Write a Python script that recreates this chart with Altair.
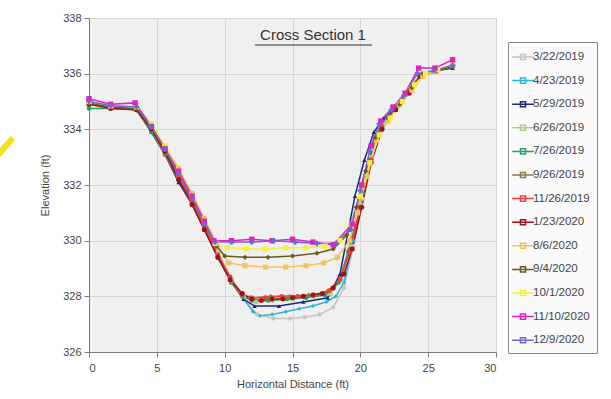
import altair as alt
import pandas as pd

dates = ["3/22/2019", "4/23/2019", "5/29/2019", "6/26/2019", "7/26/2019", "9/26/2019",
         "11/26/2019", "1/23/2020", "8/6/2020", "9/4/2020", "10/1/2020", "11/10/2020", "12/9/2020"]
colors = ["#c4c4c4", "#2bb5d8", "#1c2580", "#a8cf88", "#24a06a", "#8c7a48",
          "#f03c3c", "#a01018", "#f2c35a", "#6a5a20", "#f6ee3a", "#e020c8", "#6a6ad0"]
shapes = ["circle", "diamond", "triangle-up", "square", "circle", "diamond",
          "circle", "circle", "square", "diamond", "square", "square", "cross"]
sizes = [18, 30, 30, 30, 30, 18, 18, 45, 20, 22, 40, 45, 20]

xs = {
    "3/22/2019": [0, 1.6, 3.5, 4.6, 5.6, 6.6, 7.6, 8.5, 9.5, 10.5, 11.4, 12.4, 13.6, 14.8, 15.9, 17.0, 18.0, 18.8, 19.5, 20.2, 20.9, 21.7, 22.7, 23.7, 24.5, 25.6, 26.8],
    "4/23/2019": [0, 1.6, 3.5, 4.6, 5.6, 6.6, 7.6, 8.5, 9.5, 10.5, 11.4, 12.1, 12.6, 13.5, 14.5, 15.5, 16.5, 17.5, 18.2, 18.8, 19.5, 20.2, 20.9, 21.7, 22.7, 23.7, 24.5, 25.6, 26.8],
    "5/29/2019": [0, 1.6, 3.5, 4.6, 5.6, 6.6, 7.6, 8.5, 9.5, 10.5, 11.4, 12.2, 14.0, 15.8, 17.6, 18.5, 19.6, 20.3, 21.0, 21.7, 22.7, 23.7, 24.5, 25.6, 26.8],
    "6/26/2019": [0, 1.6, 3.5, 4.6, 5.6, 6.6, 7.6, 8.5, 9.5, 10.5, 11.4, 12.3, 13.5, 15.0, 16.5, 17.8, 18.6, 19.3, 20.0, 20.8, 21.6, 22.7, 23.7, 24.5, 25.6, 26.8],
    "7/26/2019": [0, 1.6, 3.5, 4.6, 5.6, 6.6, 7.6, 8.5, 9.5, 10.5, 11.3, 12.0, 13.2, 14.6, 16.0, 17.4, 18.4, 19.1, 19.9, 20.7, 21.5, 22.6, 23.6, 24.4, 25.6, 26.8],
    "9/26/2019": [0, 1.6, 3.5, 4.6, 5.6, 6.6, 7.6, 8.5, 9.5, 10.5, 11.3, 12.1, 13.4, 14.8, 16.2, 17.5, 18.5, 19.2, 20.0, 20.8, 21.6, 22.6, 23.6, 24.4, 25.6, 26.8],
    "11/26/2019": [0, 1.6, 3.5, 4.6, 5.6, 6.6, 7.6, 8.5, 9.5, 10.4, 11.2, 11.9, 13.0, 14.2, 15.4, 16.6, 17.7, 18.5, 19.2, 20.0, 20.8, 21.6, 22.6, 23.6, 24.4, 25.6, 26.8],
    "1/23/2020": [0, 1.6, 3.5, 4.6, 5.6, 6.6, 7.6, 8.5, 9.5, 10.4, 11.3, 12.0, 12.7, 13.5, 14.3, 15.0, 15.8, 16.5, 17.2, 18.0, 18.8, 19.4, 20.1, 20.8, 21.6, 22.6, 23.6, 24.4, 25.6, 26.8],
    "8/6/2020": [0, 1.6, 3.5, 4.6, 5.6, 6.6, 7.6, 8.5, 9.4, 10.3, 11.5, 13.0, 14.5, 16.0, 17.3, 18.3, 19.2, 19.8, 20.5, 21.2, 22.0, 22.9, 23.8, 24.6, 25.6, 26.8],
    "9/4/2020": [0, 1.6, 3.5, 4.6, 5.6, 6.6, 7.6, 8.5, 9.4, 10.0, 11.5, 13.2, 15.0, 16.8, 18.0, 19.0, 19.7, 20.4, 21.1, 22.0, 22.9, 23.8, 24.6, 25.6, 26.8],
    "10/1/2020": [0, 1.6, 3.5, 4.6, 5.6, 6.6, 7.6, 8.5, 9.3, 10.2, 11.6, 13.0, 14.5, 16.0, 17.4, 18.5, 19.3, 20.0, 20.7, 21.4, 22.2, 23.1, 24.0, 24.8, 25.7, 26.8],
    "11/10/2020": [0, 1.6, 3.4, 4.6, 5.6, 6.6, 7.6, 8.5, 9.2, 10.5, 12.0, 13.5, 15.0, 16.5, 18.0, 19.4, 20.1, 20.8, 21.5, 22.4, 23.3, 24.3, 25.5, 26.8],
    "12/9/2020": [0, 1.6, 3.5, 4.6, 5.6, 6.6, 7.6, 8.5, 9.3, 10.5, 12.0, 13.6, 15.2, 16.8, 18.2, 19.3, 20.0, 20.7, 21.4, 22.3, 23.2, 24.2, 25.4, 26.8],
}
ys = {
    "3/22/2019": [335.0, 334.8, 334.7, 334.0, 333.2, 332.3, 331.5, 330.6, 329.6, 328.6, 327.9, 327.35, 327.2, 327.2, 327.25, 327.35, 327.6, 328.3, 329.8, 331.5, 333.3, 334.2, 334.9, 335.5, 336.0, 336.1, 336.3],
    "4/23/2019": [334.9, 334.8, 334.75, 334.0, 333.2, 332.2, 331.4, 330.5, 329.5, 328.6, 327.9, 327.45, 327.3, 327.35, 327.45, 327.55, 327.65, 327.8, 328.0, 328.5, 330.0, 331.7, 333.4, 334.3, 334.9, 335.5, 336.0, 336.1, 336.3],
    "5/29/2019": [335.0, 334.8, 334.7, 333.9, 333.1, 332.1, 331.3, 330.4, 329.4, 328.5, 327.9, 327.65, 327.65, 327.8, 327.95, 328.8, 331.6, 332.9, 333.9, 334.4, 334.8, 335.4, 335.9, 336.1, 336.2],
    "6/26/2019": [334.9, 334.8, 334.7, 334.0, 333.2, 332.3, 331.4, 330.5, 329.5, 328.6, 328.0, 327.8, 327.85, 327.9, 328.0, 328.1, 328.6, 329.8, 331.3, 333.0, 334.1, 334.8, 335.4, 335.9, 336.1, 336.3],
    "7/26/2019": [334.75, 334.75, 334.7, 333.9, 333.1, 332.2, 331.3, 330.4, 329.4, 328.5, 328.0, 327.85, 327.85, 327.9, 327.95, 328.05, 328.5, 329.6, 331.2, 332.9, 334.0, 334.7, 335.4, 335.9, 336.1, 336.25],
    "9/26/2019": [334.9, 334.8, 334.7, 334.0, 333.1, 332.2, 331.3, 330.4, 329.4, 328.5, 328.0, 327.95, 328.0, 328.0, 328.05, 328.15, 328.6, 329.7, 331.2, 332.9, 334.0, 334.7, 335.4, 335.9, 336.1, 336.3],
    "11/26/2019": [334.95, 334.8, 334.7, 334.0, 333.2, 332.3, 331.4, 330.5, 329.5, 328.7, 328.1, 327.95, 327.95, 328.0, 328.0, 328.05, 328.2, 328.6, 329.6, 331.2, 332.9, 334.1, 334.8, 335.4, 335.9, 336.1, 336.3],
    "1/23/2020": [334.9, 334.75, 334.7, 334.0, 333.2, 332.2, 331.3, 330.4, 329.4, 328.6, 328.1, 327.9, 327.85, 327.9, 327.9, 327.95, 328.0, 328.05, 328.1, 328.3, 328.8, 329.7, 331.2, 332.8, 334.0, 334.7, 335.3, 335.9, 336.1, 336.3],
    "8/6/2020": [335.0, 334.85, 334.8, 334.2, 333.4, 332.6, 331.7, 330.8, 329.9, 329.2, 329.1, 329.05, 329.05, 329.1, 329.2, 329.4, 330.0, 331.0, 332.3, 333.6, 334.3, 334.9, 335.4, 335.9, 336.1, 336.3],
    "9/4/2020": [334.95, 334.8, 334.75, 334.1, 333.3, 332.4, 331.5, 330.6, 329.8, 329.45, 329.4, 329.4, 329.45, 329.55, 329.7, 330.2, 331.2, 332.5, 333.7, 334.4, 334.9, 335.5, 336.0, 336.1, 336.25],
    "10/1/2020": [335.0, 334.85, 334.8, 334.2, 333.4, 332.5, 331.6, 330.7, 329.9, 329.75, 329.7, 329.7, 329.75, 329.75, 329.8, 330.0, 330.6, 331.6, 332.8, 333.8, 334.4, 335.0, 335.6, 336.0, 336.15, 336.35],
    "11/10/2020": [335.1, 334.9, 334.95, 334.1, 333.3, 332.5, 331.6, 330.7, 330.0, 330.0, 330.05, 330.0, 330.05, 329.95, 329.85, 330.6, 332.0, 333.4, 334.3, 334.8, 335.3, 336.2, 336.2, 336.5],
    "12/9/2020": [335.0, 334.85, 334.8, 334.1, 333.3, 332.4, 331.5, 330.6, 329.95, 329.95, 329.95, 330.0, 329.95, 329.9, 329.9, 330.4, 331.8, 333.2, 334.2, 334.7, 335.2, 336.0, 336.1, 336.3],
}

rows = []
for d in dates:
    for i, (xv, yv) in enumerate(zip(xs[d], ys[d])):
        rows.append({"date": d, "dist": xv, "elev": yv, "idx": i})
df = pd.DataFrame(rows)

font = "Liberation Sans"
W, H = 407, 334

xenc = alt.X("dist:Q", scale=alt.Scale(domain=[0, 30], nice=False),
             axis=alt.Axis(values=[0, 5, 10, 15, 20, 25, 30], title="Horizontal Distance (ft)",
                           titlePadding=5, labelPadding=5))
yenc = alt.Y("elev:Q", scale=alt.Scale(domain=[326, 338], nice=False, zero=False),
             axis=alt.Axis(values=[326, 328, 330, 332, 334, 336, 338], title="Elevation (ft)",
                           titlePadding=12))
color = alt.Color("date:N", scale=alt.Scale(domain=dates, range=colors),
                  legend=alt.Legend(title=None, orient="none", legendX=419, legendY=24,
                                    symbolType="M-1.5,0H1.5M-0.35,-0.35H0.35V0.35H-0.35Z",
                                    symbolSize=210, symbolStrokeWidth=1.5,
                                    labelFontSize=11.5, labelColor="#444", labelFont=font,
                                    rowPadding=9.6, padding=7, strokeColor="#888",
                                    fillColor="#fafafa", labelOffset=2))

base = alt.Chart(df)
lines = base.mark_line(strokeWidth=1.5).encode(
    x=xenc, y=yenc, color=color, detail="date:N", order="idx:Q")
points = base.mark_point(filled=True, opacity=1).encode(
    x="dist:Q", y="elev:Q",
    color=alt.Color("date:N", scale=alt.Scale(domain=dates, range=colors), legend=None),
    shape=alt.Shape("date:N", scale=alt.Scale(domain=dates, range=shapes), legend=None),
    size=alt.Size("date:N", scale=alt.Scale(domain=dates, range=sizes), legend=None))

title_df = pd.DataFrame({"t": ["Cross Section 1"]})
title_txt = alt.Chart(title_df).mark_text(font=font, fontSize=15, color="#333",
                                          align="center", baseline="middle").encode(
    text="t:N", x=alt.value(224), y=alt.value(17))
underline = alt.Chart(title_df).mark_rule(color="#333", strokeWidth=1).encode(
    x=alt.value(166), x2=alt.value(283), y=alt.value(27))
arrow = alt.Chart(title_df).mark_rule(color="#f2e21c", strokeWidth=6).encode(
    x=alt.value(-92), x2=alt.value(-76), y=alt.value(138), y2=alt.value(120))

chart = alt.layer(lines, points, title_txt, underline, arrow).resolve_scale(
    color="independent", shape="independent", size="independent"
).properties(
    width=W, height=H,
    autosize=alt.AutoSizeParams(type="none"),
    padding={"left": 89, "top": 18, "right": 115, "bottom": 47},
    background="white",
).configure_view(
    fill="#f0f0f0", stroke="#7a7a7a", strokeWidth=1
).configure_axis(
    labelFont=font, titleFont=font, labelFontSize=11, titleFontSize=11,
    labelColor="#444", titleColor="#444", titleFontWeight="normal",
    gridColor="#d6d6d6", gridWidth=1, domainColor="#7a7a7a", tickColor="#7a7a7a",
    tickSize=5, labelPadding=3
)

chart.save("out.html", embed_options={"renderer": "svg", "actions": False})
